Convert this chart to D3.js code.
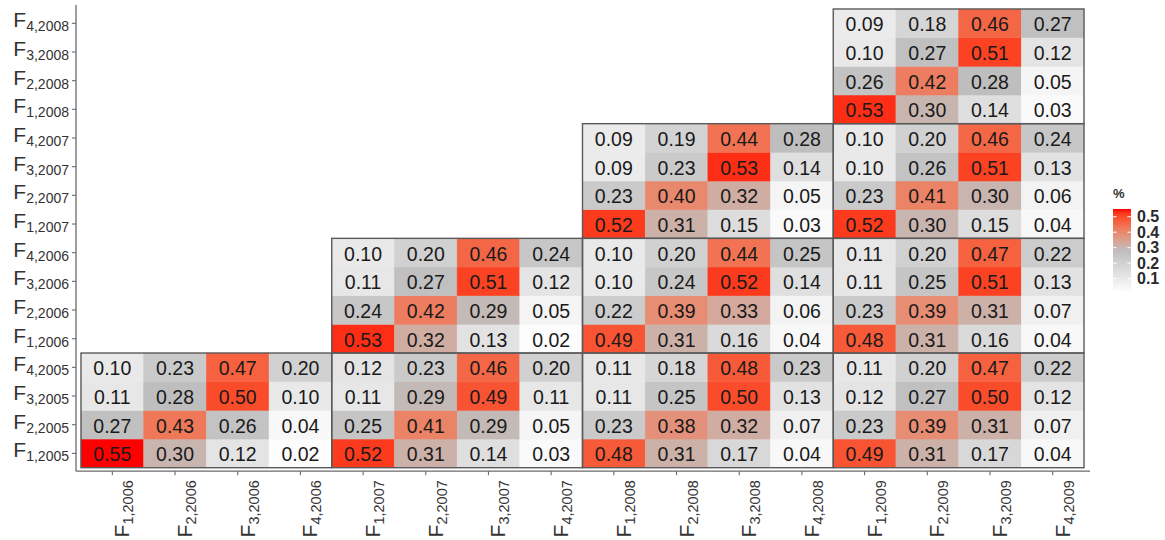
<!DOCTYPE html>
<html>
<head>
<meta charset="utf-8">
<script src="https://cdn.jsdelivr.net/npm/d3@7"></script>
<style>
  html, body { margin: 0; padding: 0; background: #ffffff; }
  svg { display: block; font-family: "Liberation Sans", Arial, sans-serif; }
</style>
</head>
<body>
<svg id="chart" width="1165" height="540"></svg>
<script>
// ---------- DATA ----------
const quarters = [1, 2, 3, 4];
const rowYears = [2005, 2006, 2007, 2008];
const colYears = [2006, 2007, 2008, 2009];

// Each row: values for columns of every later year (4 quarters per year)
const F1_2005 = [0.55, 0.30, 0.12, 0.02, 0.52, 0.31, 0.14, 0.03, 0.48, 0.31, 0.17, 0.04, 0.49, 0.31, 0.17, 0.04];
const F2_2005 = [0.27, 0.43, 0.26, 0.04, 0.25, 0.41, 0.29, 0.05, 0.23, 0.38, 0.32, 0.07, 0.23, 0.39, 0.31, 0.07];
const F3_2005 = [0.11, 0.28, 0.50, 0.10, 0.11, 0.29, 0.49, 0.11, 0.11, 0.25, 0.50, 0.13, 0.12, 0.27, 0.50, 0.12];
const F4_2005 = [0.10, 0.23, 0.47, 0.20, 0.12, 0.23, 0.46, 0.20, 0.11, 0.18, 0.48, 0.23, 0.11, 0.20, 0.47, 0.22];
const F1_2006 = [0.53, 0.32, 0.13, 0.02, 0.49, 0.31, 0.16, 0.04, 0.48, 0.31, 0.16, 0.04];
const F2_2006 = [0.24, 0.42, 0.29, 0.05, 0.22, 0.39, 0.33, 0.06, 0.23, 0.39, 0.31, 0.07];
const F3_2006 = [0.11, 0.27, 0.51, 0.12, 0.10, 0.24, 0.52, 0.14, 0.11, 0.25, 0.51, 0.13];
const F4_2006 = [0.10, 0.20, 0.46, 0.24, 0.10, 0.20, 0.44, 0.25, 0.11, 0.20, 0.47, 0.22];
const F1_2007 = [0.52, 0.31, 0.15, 0.03, 0.52, 0.30, 0.15, 0.04];
const F2_2007 = [0.23, 0.40, 0.32, 0.05, 0.23, 0.41, 0.30, 0.06];
const F3_2007 = [0.09, 0.23, 0.53, 0.14, 0.10, 0.26, 0.51, 0.13];
const F4_2007 = [0.09, 0.19, 0.44, 0.28, 0.10, 0.20, 0.46, 0.24];
const F1_2008 = [0.53, 0.30, 0.14, 0.03];
const F2_2008 = [0.26, 0.42, 0.28, 0.05];
const F3_2008 = [0.10, 0.27, 0.51, 0.12];
const F4_2008 = [0.09, 0.18, 0.46, 0.27];

const rowValues = {
  "1,2005": F1_2005, "2,2005": F2_2005, "3,2005": F3_2005, "4,2005": F4_2005,
  "1,2006": F1_2006, "2,2006": F2_2006, "3,2006": F3_2006, "4,2006": F4_2006,
  "1,2007": F1_2007, "2,2007": F2_2007, "3,2007": F3_2007, "4,2007": F4_2007,
  "1,2008": F1_2008, "2,2008": F2_2008, "3,2008": F3_2008, "4,2008": F4_2008
};

const legendTicks = [0.1, 0.2, 0.3, 0.4, 0.5];
const legendTitle = "%";

// ---------- BUILD ----------
const rowKeys = rowYears.flatMap(y => quarters.map(q => q + "," + y)); // bottom -> top
const colKeys = colYears.flatMap(y => quarters.map(q => q + "," + y));

const cells = [];
rowKeys.forEach(rk => {
  const ry = +rk.split(",")[1];
  const vals = rowValues[rk];
  const cols = colKeys.filter(ck => +ck.split(",")[1] > ry);
  cols.forEach((ck, i) => cells.push({ row: rk, col: ck, value: vals[i] }));
});

const svg = d3.select("#chart");

const x = d3.scaleBand().domain(colKeys).range([81, 1084]).padding(0);
const y = d3.scaleBand().domain(rowKeys).range([467.7, 9]).padding(0);

const vmin = 0.02, vmax = 0.55, mid = 0.28;
const half = Math.max(mid - vmin, vmax - mid);
const color = d3.scaleLinear()
  .domain([mid - half, mid, mid + half])
  .range(["#ffffff", "#bebebe", "#ff0000"])
  .interpolate(d3.interpolateLab)
  .clamp(true);

// cells
svg.append("g").selectAll("rect")
  .data(cells).join("rect")
  .attr("x", d => x(d.col))
  .attr("y", d => y(d.row))
  .attr("width", x.bandwidth())
  .attr("height", y.bandwidth())
  .attr("fill", d => color(d.value))
  .attr("stroke", d => color(d.value))
  .attr("stroke-width", 0.5);

// cell labels
svg.append("g").selectAll("text")
  .data(cells).join("text")
  .attr("x", d => x(d.col) + x.bandwidth() / 2)
  .attr("y", d => y(d.row) + y.bandwidth() / 2 + 1)
  .attr("text-anchor", "middle")
  .attr("dominant-baseline", "central")
  .attr("font-size", 19.5)
  .attr("fill", "#1a1a1a")
  .text(d => d.value.toFixed(2));

// block borders
const blocks = [];
rowYears.forEach(ry => colYears.forEach(cy => { if (cy > ry) blocks.push({ ry, cy }); }));
svg.append("g").selectAll("rect")
  .data(blocks).join("rect")
  .attr("x", d => x("1," + d.cy))
  .attr("y", d => y("4," + d.ry))
  .attr("width", x.bandwidth() * 4)
  .attr("height", y.bandwidth() * 4)
  .attr("fill", "none")
  .attr("stroke", "#5a5a5a")
  .attr("stroke-width", 1.4);

// axes
const axisColor = "#6a6a6a";
const xr = x.range(), yr = y.range();
const panelLeft = xr[0] - 5, panelRight = xr[1] + 6, panelBottom = yr[0] + 3.5, panelTop = yr[1] - 4;

const yAxis = svg.append("g")
  .attr("transform", `translate(${panelLeft},0)`)
  .call(d3.axisLeft(y).tickSize(4).tickSizeOuter(0).tickFormat(() => ""));
yAxis.select(".domain").remove();
yAxis.selectAll(".tick line").attr("stroke", axisColor).attr("stroke-width", 1.1);
yAxis.selectAll(".tick text").remove();
yAxis.selectAll(".tick").each(function (d) {
  const [q, yr2] = d.split(",");
  const t = d3.select(this).append("text")
    .attr("x", -7).attr("y", 4)
    .attr("text-anchor", "end")
    .attr("fill", "#333333")
    .attr("font-size", 21);
  t.append("tspan").text("F");
  t.append("tspan").attr("font-size", 14).attr("dy", 4).text(q + "," + yr2);
});

const xAxis = svg.append("g")
  .attr("transform", `translate(0,${panelBottom})`)
  .call(d3.axisBottom(x).tickSize(4).tickSizeOuter(0).tickFormat(() => ""));
xAxis.select(".domain").remove();
xAxis.selectAll(".tick line").attr("stroke", axisColor).attr("stroke-width", 1.1);
xAxis.selectAll(".tick text").remove();
xAxis.selectAll(".tick").each(function (d) {
  const [q, yr2] = d.split(",");
  const t = d3.select(this).append("text")
    .attr("transform", "translate(17,9) rotate(-90)")
    .attr("text-anchor", "end")
    .attr("fill", "#333333")
    .attr("font-size", 21);
  t.append("tspan").text("F");
  t.append("tspan").attr("font-size", 14.5).attr("dy", 4).text(q + "," + yr2);
});

// axis lines
svg.append("line")
  .attr("x1", panelLeft).attr("x2", panelLeft)
  .attr("y1", panelTop).attr("y2", panelBottom)
  .attr("stroke", axisColor).attr("stroke-width", 1.3);
svg.append("line")
  .attr("x1", panelLeft).attr("x2", panelRight)
  .attr("y1", panelBottom).attr("y2", panelBottom)
  .attr("stroke", axisColor).attr("stroke-width", 1.3);

// legend
const lg = { x: 1113, y0: 209, y1: 291, w: 18 };
const ly = d3.scaleLinear().domain([vmin, vmax]).range([lg.y1, lg.y0]);
const defs = svg.append("defs");
const grad = defs.append("linearGradient").attr("id", "lgrad")
  .attr("x1", 0).attr("y1", 1).attr("x2", 0).attr("y2", 0);
d3.range(0, 1.0001, 0.05).forEach(t => {
  grad.append("stop").attr("offset", t).attr("stop-color", color(vmin + t * (vmax - vmin)));
});
svg.append("rect")
  .attr("x", lg.x).attr("y", lg.y0)
  .attr("width", lg.w).attr("height", lg.y1 - lg.y0)
  .attr("fill", "url(#lgrad)");
const lt = svg.append("g");
lt.selectAll("line.l").data(legendTicks).join("line")
  .attr("x1", lg.x).attr("x2", lg.x + 3.6)
  .attr("y1", d => ly(d)).attr("y2", d => ly(d))
  .attr("stroke", "#ffffff").attr("stroke-width", 1);
lt.selectAll("line.r").data(legendTicks).join("line")
  .attr("x1", lg.x + lg.w - 3.6).attr("x2", lg.x + lg.w)
  .attr("y1", d => ly(d)).attr("y2", d => ly(d))
  .attr("stroke", "#ffffff").attr("stroke-width", 1);
lt.selectAll("text").data(legendTicks).join("text")
  .attr("x", lg.x + lg.w + 6)
  .attr("y", d => ly(d))
  .attr("dominant-baseline", "central")
  .attr("font-size", 16)
  .attr("font-weight", "bold")
  .attr("fill", "#2a2a2a")
  .text(d => d.toFixed(1));
svg.append("text")
  .attr("x", lg.x).attr("y", 198)
  .attr("font-size", 13)
  .attr("font-weight", "bold")
  .attr("fill", "#333333")
  .text(legendTitle);
</script>
</body>
</html>
